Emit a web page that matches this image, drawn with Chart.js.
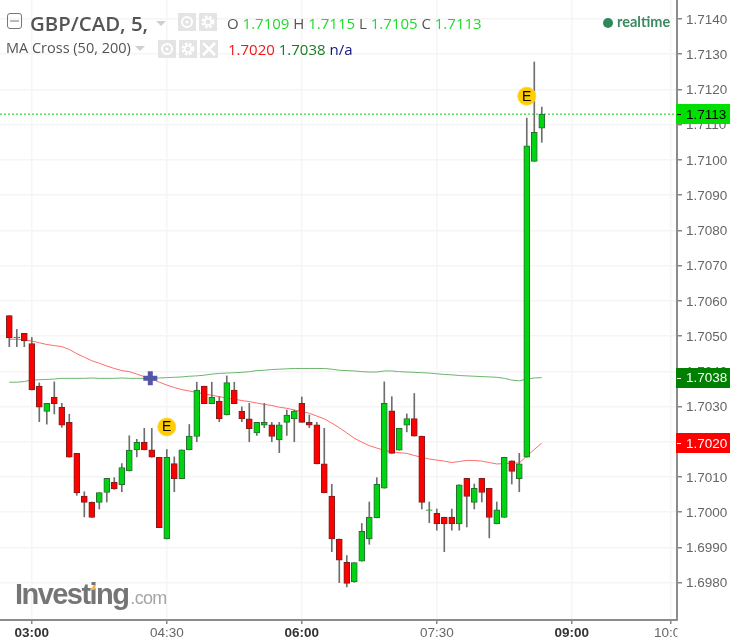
<!DOCTYPE html>
<html>
<head>
<meta charset="utf-8">
<title>GBP/CAD</title>
<script src="https://cdn.jsdelivr.net/npm/chart.js@4"></script>
<style>
  html, body { margin: 0; padding: 0; background: #fff; }
  #wrap { position: relative; width: 730px; height: 640px; overflow: hidden; }
  #myChart { position: absolute; left: 0; top: 0; }
  .txt { position: absolute; white-space: nowrap; font-family: "Open Sans", sans-serif; }
  .btn { position: absolute; width: 18px; height: 18px; background: #e4e4e4; }
  .caret { position: absolute; width: 0; height: 0; border-left: 5px solid transparent; border-right: 5px solid transparent; border-top: 5px solid #cfcfcf; }
</style>
</head>
<body>
<div id="wrap">
  <canvas id="myChart" width="730" height="640"></canvas>

  <svg style="position:absolute;left:7px;top:13px" width="15" height="16"><rect x="0.5" y="0.5" width="14" height="15" rx="2.5" fill="none" stroke="#777"/><line x1="3" y1="8" x2="12" y2="8" stroke="#777"/></svg>
  <div class="txt" style="left:30px;top:9px;font-size:20.4px;font-weight:600;color:#555">GBP/CAD, 5,</div>
  <div class="caret" style="left:156px;top:21px"></div>
  <div class="btn" style="left:178px;top:13px"><svg width="18" height="18"><circle cx="9" cy="9" r="5" fill="none" stroke="#fff" stroke-width="2"/><circle cx="9" cy="9" r="1.5" fill="#fff"/></svg></div>
  <div class="btn" style="left:199px;top:13px"><svg width="18" height="18"><circle cx="9" cy="9" r="5" fill="none" stroke="#fff" stroke-width="3" stroke-dasharray="2.5 1.5"/><circle cx="9" cy="9" r="3.2" fill="none" stroke="#fff" stroke-width="1.5"/></svg></div>
  <div class="txt" style="left:227px;top:13px;font-size:15px;color:#555">O <span style="color:#1edc2a">1.7109</span> H <span style="color:#1edc2a">1.7115</span> L <span style="color:#1edc2a">1.7105</span> C <span style="color:#1edc2a">1.7113</span></div>

  <div class="txt" style="left:6px;top:38px;font-size:14.5px;color:#555">MA Cross (50, 200)</div>
  <div class="caret" style="left:135px;top:46px"></div>
  <div class="btn" style="left:158px;top:40px"><svg width="18" height="18"><circle cx="9" cy="9" r="5" fill="none" stroke="#fff" stroke-width="2"/><circle cx="9" cy="9" r="1.5" fill="#fff"/></svg></div>
  <div class="btn" style="left:179px;top:40px"><svg width="18" height="18"><circle cx="9" cy="9" r="5" fill="none" stroke="#fff" stroke-width="3" stroke-dasharray="2.5 1.5"/><circle cx="9" cy="9" r="3.2" fill="none" stroke="#fff" stroke-width="1.5"/></svg></div>
  <div class="btn" style="left:200px;top:40px"><svg width="18" height="18"><path d="M3 3L15 15M15 3L3 15" stroke="#fff" stroke-width="2.5"/></svg></div>
  <div class="txt" style="left:228px;top:39px;font-size:15px"><span style="color:#f01818">1.7020</span> <span style="color:#177a22">1.7038</span> <span style="color:#14147e">n/a</span></div>

  <svg style="position:absolute;left:603px;top:18px" width="10" height="10"><circle cx="5" cy="5" r="5" fill="#2f8a5b"/></svg>
  <div class="txt" style="left:617px;top:13px;font-size:14.5px;color:#3a8a62;font-family:Lato,sans-serif;font-weight:700">realtime</div>

  <div class="txt" style="left:15px;top:578px;font-family:'Liberation Sans',sans-serif;font-size:29px;font-weight:700;letter-spacing:-1.55px;color:#757575">Investing<span style="font-size:18px;font-weight:400;letter-spacing:-0.7px;color:#a5a5a5;margin-left:2px">.com</span></div>
  <svg style="position:absolute;left:90px;top:584px" width="7" height="7"><path d="M1 6L3.5 1L6 1L4.5 6Z" fill="#f5b14c"/></svg>
</div>

<script>
// 5 minute candles, 02:37 .. 08:25
const opens = [1.70558,1.70495,1.70508,1.70479,1.70358,1.70286,1.70327,1.70298,1.70255,1.70167,1.70046,1.70029,
  1.70028,1.70056,1.70085,1.70078,1.70117,1.70177,1.70198,1.70177,1.70156,1.69924,1.70138,1.70095,
  1.70177,1.70215,1.70358,1.70308,1.70315,1.70276,1.70347,1.70287,1.70265,1.70225,1.70247,1.70248,
  1.70205,1.70255,1.70265,1.70309,1.70255,1.70248,1.70137,1.70046,1.69924,1.69858,1.69802,1.69861,
  1.69924,1.69984,1.70068,1.70288,1.70176,1.70247,1.70266,1.70216,1.70005,1.69997,1.69986,1.69986,
  1.69967,1.70096,1.70028,1.70096,1.70068,1.69967,1.69985,1.70146,1.70095,1.70156,1.70996,1.7109];
const highs = [1.70558,1.70519,1.70508,1.70496,1.70367,1.70309,1.70370,1.70309,1.70278,1.70167,1.70058,1.70029,
  1.70056,1.70096,1.70098,1.70138,1.70217,1.70207,1.70238,1.70238,1.70156,1.70178,1.70157,1.70177,
  1.70249,1.70369,1.70358,1.70369,1.70328,1.70387,1.70369,1.70299,1.70309,1.70255,1.70309,1.70255,
  1.70255,1.70290,1.70290,1.70327,1.70276,1.70255,1.70238,1.70079,1.69924,1.69877,1.69857,1.69968,
  1.70029,1.70098,1.70370,1.70328,1.70238,1.70279,1.70337,1.70216,1.70029,1.70009,1.69986,1.70009,
  1.70078,1.70096,1.70080,1.70096,1.70068,1.70029,1.70156,1.70146,1.70167,1.71119,1.71278,1.7115];
const lows = [1.70470,1.70470,1.70470,1.70347,1.70257,1.70250,1.70279,1.70241,1.70156,1.70048,1.69987,1.69985,
  1.70009,1.70029,1.70065,1.70058,1.70117,1.70157,1.70177,1.70156,1.69956,1.69924,1.70058,1.70095,
  1.70177,1.70200,1.70308,1.70308,1.70257,1.70276,1.70308,1.70257,1.70200,1.70218,1.70240,1.70200,
  1.70169,1.70218,1.70200,1.70255,1.70240,1.70137,1.70055,1.69888,1.69800,1.69788,1.69801,1.69861,
  1.69909,1.69984,1.70068,1.70167,1.70176,1.70228,1.70216,1.70009,1.69970,1.69949,1.69888,1.69949,
  1.69949,1.69958,1.70009,1.70029,1.69927,1.69967,1.69985,1.70080,1.70058,1.70156,1.70996,1.7105];
const closes = [1.70495,1.70497,1.70486,1.70347,1.70298,1.70309,1.70308,1.70247,1.70156,1.70055,1.70028,1.69985,
  1.70056,1.70096,1.70066,1.70127,1.70176,1.70198,1.70177,1.70156,1.69956,1.70156,1.70095,1.70177,
  1.70216,1.70347,1.70308,1.70326,1.70265,1.70368,1.70308,1.70265,1.70237,1.70255,1.70255,1.70215,
  1.70248,1.70276,1.70287,1.70255,1.70247,1.70137,1.70055,1.69924,1.69864,1.69798,1.69857,1.69946,
  1.69986,1.70079,1.70309,1.70167,1.70238,1.70266,1.70216,1.70028,1.70007,1.69967,1.69967,1.69967,
  1.70078,1.70045,1.70068,1.70056,1.69985,1.70007,1.70156,1.70116,1.70137,1.71040,1.71078,1.7113];

const ma50 = [1.70491,1.70491,1.70489,1.70486,1.70481,1.70476,1.70473,1.70470,1.70462,1.70450,1.70440,1.70430,
  1.70423,1.70415,1.70408,1.70402,1.70399,1.70392,1.70385,1.70378,1.70369,1.70361,1.70354,1.70348,
  1.70344,1.70340,1.70336,1.70332,1.70328,1.70324,1.70321,1.70317,1.70314,1.70310,1.70306,1.70303,
  1.70298,1.70295,1.70290,1.70286,1.70281,1.70273,1.70265,1.70253,1.70240,1.70225,1.70210,1.70199,
  1.70189,1.70182,1.70176,1.70171,1.70169,1.70167,1.70161,1.70156,1.70151,1.70148,1.70145,1.70141,
  1.70144,1.70147,1.70147,1.70145,1.70141,1.70137,1.70138,1.70139,1.70140,1.70159,1.70178,1.70196];
const ma200 = [1.70369,1.70369,1.70371,1.70375,1.70376,1.70377,1.70378,1.70380,1.70380,1.70380,1.70380,1.70381,
  1.70380,1.70380,1.70380,1.70381,1.70380,1.70380,1.70380,1.70380,1.70381,1.70382,1.70383,1.70384,
  1.70386,1.70387,1.70389,1.70392,1.70394,1.70395,1.70396,1.70397,1.70399,1.70402,1.70403,1.70405,
  1.70406,1.70407,1.70408,1.70408,1.70408,1.70408,1.70408,1.70406,1.70403,1.70402,1.70401,1.70399,
  1.70398,1.70398,1.70401,1.70401,1.70399,1.70398,1.70397,1.70396,1.70395,1.70393,1.70391,1.70390,
  1.70388,1.70387,1.70386,1.70385,1.70384,1.70383,1.70380,1.70375,1.70373,1.70378,1.70381,1.70382];

const earnings = [[21, 1.70242], [69, 1.71181]];
const cross = [[18.8, 1.70380]];

const yTicks = [1.714,1.713,1.712,1.711,1.71,1.709,1.708,1.707,1.706,1.705,1.704,1.703,1.702,1.701,1.7,1.699,1.698];
const xTickPos = [3, 21, 39, 57, 75, 88.2];
const xTickText = ['03:00', '04:30', '06:00', '07:30', '09:00', '10:00'];
const xTickBold = [true, false, true, false, true, false];

const xMin = -1.24, xMax = 89.03, yMin = 1.69694, yMax = 1.71454;

const upFill = '#00d412', upEdge = '#2a6b35', downFill = '#ff0000', downEdge = '#7d1f1f';

function isUp(i) { return closes[i] >= opens[i]; }
function seriesOf(arr) { return arr.map((v, i) => ({ x: i, y: v })); }

// no label overhang margins, the plot has to reach the canvas edges
function noOverhang(scale) {
  scale.paddingLeft = 0;
  scale.paddingRight = 0;
  scale.paddingTop = 0;
  scale.paddingBottom = 0;
}

// value boxes on the price axis, E letters on the event dots
const extrasPlugin = {
  id: 'extras',
  afterDatasetsDraw(chart) {
    const ctx = chart.ctx;
    const meta = chart.getDatasetMeta(5);
    ctx.save();
    ctx.fillStyle = '#000';
    ctx.font = '14px "Liberation Sans"';
    ctx.textAlign = 'center';
    ctx.textBaseline = 'middle';
    meta.data.forEach(p => ctx.fillText('E', p.x, p.y + 0.5));
    ctx.restore();
  },
  afterDraw(chart) {
    const ctx = chart.ctx;
    const y = chart.scales.y;
    const boxes = [
      [closes[closes.length - 1], '#00e000', '#000'],
      [ma200[ma200.length - 1], '#008000', '#fff'],
      [ma50[ma50.length - 1], '#ff0000', '#fff']
    ];
    ctx.save();
    // 10:00 label runs under the price axis
    ctx.fillStyle = '#fff';
    ctx.fillRect(677.5, 621, 53, 19);
    ctx.font = '13.5px "Liberation Sans"';
    ctx.textBaseline = 'middle';
    boxes.forEach(b => {
      const py = y.getPixelForValue(b[0]);
      const top = Math.round(py) - 10;
      ctx.fillStyle = b[1];
      ctx.fillRect(676, top, 54, 20);
      ctx.fillStyle = b[2];
      ctx.fillRect(677, top + 10, 4, 1);
      ctx.fillText(b[0].toFixed(4), 686, py + 1);
    });
    ctx.restore();
  }
};

function drawChart() {
  const ctx = document.getElementById('myChart');
  new Chart(ctx, {
    type: 'bar',
    data: {
      datasets: [
        {
          label: 'wick',
          data: highs.map((h, i) => ({ x: i, y: [lows[i], h] })),
          backgroundColor: '#6e6e6e',
          barThickness: 1,
          grouped: false,
          order: 3
        },
        {
          label: 'body',
          data: opens.map((o, i) => ({ x: i, y: [o, closes[i]] })),
          backgroundColor: opens.map((o, i) => isUp(i) ? upFill : downFill),
          borderColor: opens.map((o, i) => isUp(i) ? upEdge : downEdge),
          borderWidth: 1,
          borderSkipped: false,
          barThickness: 6,
          grouped: false,
          order: 2
        },
        {
          type: 'line',
          label: 'MA 50',
          data: seriesOf(ma50),
          borderColor: '#ff6b6b',
          borderWidth: 1,
          pointRadius: 0,
          order: 6
        },
        {
          type: 'line',
          label: 'MA 200',
          data: seriesOf(ma200),
          borderColor: '#6cb56c',
          borderWidth: 1,
          pointRadius: 0,
          order: 6
        },
        {
          type: 'line',
          label: 'last',
          data: [{ x: xMin, y: closes[71] }, { x: xMax, y: closes[71] }],
          borderColor: '#12c812',
          borderWidth: 1,
          borderDash: [2, 2],
          pointRadius: 0,
          order: 5
        },
        {
          type: 'scatter',
          label: 'E',
          data: earnings.map(p => ({ x: p[0], y: p[1] })),
          backgroundColor: '#ffcc00',
          borderColor: '#ffd83a',
          borderWidth: 1,
          pointRadius: 9,
          order: 1
        },
        {
          type: 'scatter',
          label: 'cross',
          data: cross.map(p => ({ x: p[0], y: p[1] })),
          pointStyle: 'cross',
          borderColor: '#5357a5',
          borderWidth: 5,
          pointRadius: 7,
          order: 0
        }
      ]
    },
    options: {
      responsive: false,
      animation: false,
      layout: { padding: 0, autoPadding: false },
      plugins: { legend: { display: false }, tooltip: { enabled: false } },
      scales: {
        x: {
          type: 'linear',
          offset: false,
          min: xMin,
          max: xMax,
          afterFit: scale => { noOverhang(scale); scale.height = 20; },
          afterBuildTicks: scale => { scale.ticks = xTickPos.map(v => ({ value: v })); },
          grid: { offset: false, color: '#f5f5f5', lineWidth: 1.5, tickColor: '#888', tickLength: 4 },
          border: { color: '#8c8c8c', width: 2 },
          ticks: {
            autoSkip: false,
            maxRotation: 0,
            padding: 1,
            callback: (v, i) => xTickText[i],
            color: c => xTickBold[c.index] ? '#333' : '#666',
            font: c => ({ family: '"Liberation Sans"', size: 13.5, weight: xTickBold[c.index] ? 'bold' : 'normal' })
          }
        },
        y: {
          position: 'right',
          beginAtZero: false,
          min: yMin,
          max: yMax,
          afterFit: scale => { noOverhang(scale); scale.width = 53; },
          afterBuildTicks: scale => { scale.ticks = yTicks.map(v => ({ value: v })); },
          grid: { color: '#f5f5f5', lineWidth: 1.5, tickColor: '#888', tickLength: 5 },
          border: { color: '#8c8c8c', width: 2 },
          ticks: {
            autoSkip: false,
            padding: 4,
            labelOffset: 1,
            color: '#666',
            font: { family: '"Liberation Sans"', size: 13.5 },
            callback: v => v.toFixed(4)
          }
        }
      }
    },
    plugins: [extrasPlugin]
  });
}

drawChart();
</script>
</body>
</html>
